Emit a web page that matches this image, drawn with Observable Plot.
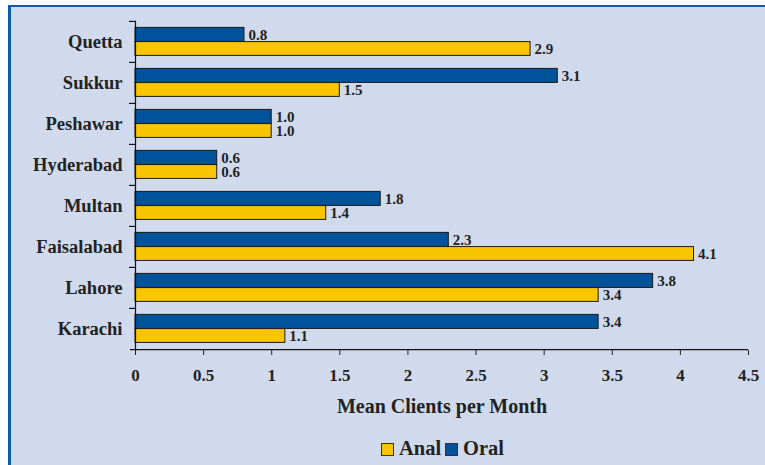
<!DOCTYPE html>
<html>
<head>
<meta charset="utf-8">
<script src="https://cdn.jsdelivr.net/npm/d3@7"></script>
<script src="https://cdn.jsdelivr.net/npm/@observablehq/plot@0.6"></script>
<style>
  html, body { margin: 0; padding: 0; background: #ffffff; }
  #page { position: relative; width: 765px; height: 465px; overflow: hidden; }
  #panel { position: absolute; left: 8px; top: 5px; right: 0; bottom: 0;
           background: #d0daec; border-left: 3px solid #0d5aa7; border-top: 2px solid #0d5aa7; }
  #chart { position: absolute; left: 0; top: 0; }
  #legend { position: absolute; left: 0; top: 437px; width: 765px; text-align: center;
            font-family: "Liberation Serif", serif; font-weight: bold; font-size: 20.5px; color: #222; padding-left: 120px; box-sizing: border-box; }
  .sw { display: inline-block; width: 11px; height: 11px; border: 1px solid #333; vertical-align: -1px; margin-right: 5px; }
  .item { margin: 0 2px; }
</style>
</head>
<body>
<div id="page">
  <div id="panel"></div>
  <div id="chart"></div>
  <div id="legend"></div>
</div>
<script>
const cities = ["Quetta", "Sukkur", "Peshawar", "Hyderabad", "Multan", "Faisalabad", "Lahore", "Karachi"];
const oral = [0.8, 3.1, 1.0, 0.6, 1.8, 2.3, 3.8, 3.4];
const anal = [2.9, 1.5, 1.0, 0.6, 1.4, 4.1, 3.4, 1.1];
const seriesNames = ["Anal", "Oral"];
const seriesColors = ["#f9c500", "#00539b"];
const xTicks = [0, 0.5, 1, 1.5, 2, 2.5, 3, 3.5, 4, 4.5];

const oralData = cities.map((c, i) => ({city: c, value: oral[i]}));
const analData = cities.map((c, i) => ({city: c, value: anal[i]}));

const W = 765, H = 432;
const mTop = 20.7, mBottom = H - 350, mLeft = 135, mRight = 17;
const bw = (H - mTop - mBottom) / cities.length;
const font = '"Liberation Serif", serif';

const chart = Plot.plot({
  width: W,
  height: H,
  marginTop: mTop,
  marginBottom: mBottom,
  marginLeft: mLeft,
  marginRight: mRight,
  style: {background: "transparent", fontFamily: font, fontWeight: "bold", color: "#222"},
  x: {domain: [0, 4.5], ticks: xTicks},
  y: {domain: cities, padding: 0},
  marks: [
    Plot.barX(oralData, {x: "value", y: "city", fill: seriesColors[1], stroke: "#1a1a1a", strokeWidth: 1,
      insetTop: 6.4, insetBottom: bw / 2}),
    Plot.barX(analData, {x: "value", y: "city", fill: seriesColors[0], stroke: "#1a1a1a", strokeWidth: 1,
      insetTop: bw / 2, insetBottom: 6.6}),
    Plot.text(oralData, {x: "value", y: "city", text: d => d3.format(".1f")(d.value), dx: 4, dy: -7.2,
      textAnchor: "start", fontSize: 15, fontWeight: "bold", fill: "#222"}),
    Plot.text(analData, {x: "value", y: "city", text: d => d3.format(".1f")(d.value), dx: 4, dy: 7.2,
      textAnchor: "start", fontSize: 15, fontWeight: "bold", fill: "#222"}),
    Plot.ruleX([0], {stroke: "#111", strokeWidth: 1.2}),
    Plot.ruleY(cities, {y: d => d, dy: -bw / 2, x1: -6 / 136.2, x2: 0, stroke: "#111", strokeWidth: 1.2}),
    Plot.ruleY([cities[cities.length - 1]], {y: d => d, dy: bw / 2, x1: -5 / 136.2, x2: 4.5, stroke: "#111", strokeWidth: 1.2}),
    Plot.axisY({tickSize: 0, tickPadding: 13, fontSize: 18.5, fontWeight: "bold", label: null}),
    Plot.axisX({ticks: xTicks, tickSize: 5, tickPadding: 13, fontSize: 17, fontWeight: "bold",
      tickFormat: d => String(d), label: null}),
    Plot.text(["Mean Clients per Month"], {frameAnchor: "bottom", dy: 62, fontSize: 20, fontWeight: "bold", fill: "#222"})
  ]
});
document.getElementById("chart").appendChild(chart);

const legend = document.getElementById("legend");
legend.innerHTML = seriesNames.map((n, i) =>
  `<span class="item"><span class="sw" style="background:${seriesColors[i]}"></span>${n}</span>`).join("");
</script>
</body>
</html>
